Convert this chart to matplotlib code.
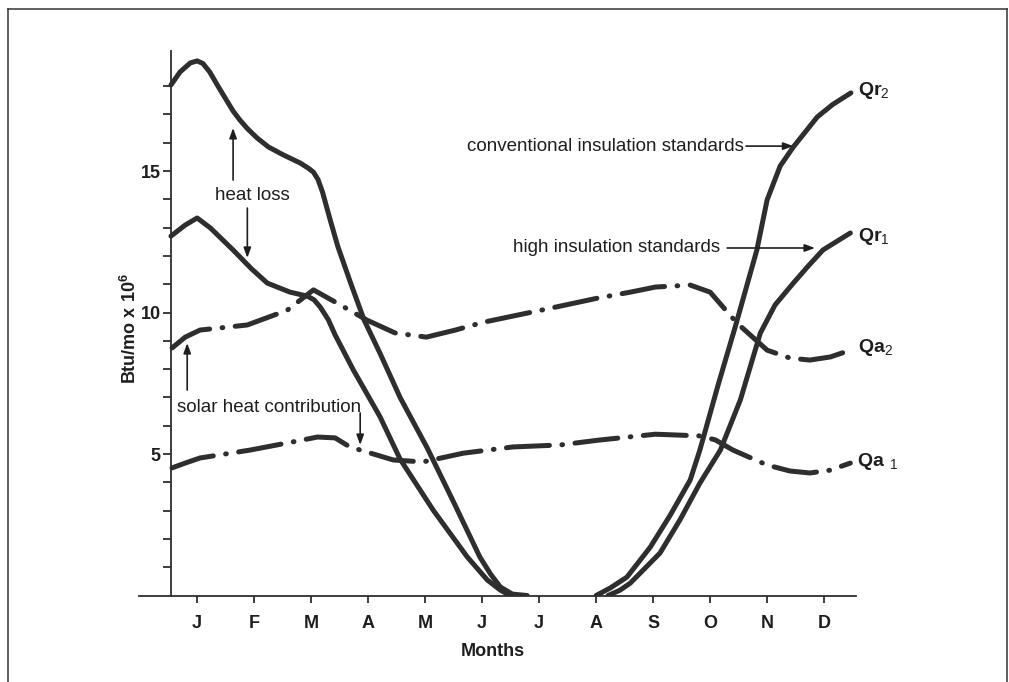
import numpy as np
import matplotlib
matplotlib.use('Agg')
import matplotlib.pyplot as plt
from matplotlib.lines import Line2D

plt.rcParams['font.family'] = ['Liberation Sans', 'DejaVu Sans']
plt.rcParams['mathtext.fontset'] = 'custom'
plt.rcParams['mathtext.rm'] = 'Liberation Sans'
plt.rcParams['mathtext.bf'] = 'Liberation Sans:bold'
plt.rcParams['lines.scale_dashes'] = False

# month labels (J = 0 ... D = 11)
months = ['J', 'F', 'M', 'A', 'M', 'J', 'J', 'A', 'S', 'O', 'N', 'D']

# heat loss, conventional insulation (Qr2) - winter/spring part
qr2_a_x = [-0.46, -0.30, -0.12, 0.0, 0.10, 0.22, 0.35, 0.50, 0.63, 0.75, 0.88, 1.05, 1.25,
           1.51, 1.81, 1.95, 2.04, 2.12, 2.20, 2.33, 2.47, 2.70, 2.93, 3.21, 3.56, 4.04,
           4.49, 4.96, 5.15, 5.32, 5.53, 5.79]
qr2_a_y = [18.04, 18.50, 18.82, 18.89, 18.80, 18.50, 18.05, 17.55, 17.12, 16.80, 16.50, 16.17, 15.85,
           15.57, 15.28, 15.10, 14.96, 14.70, 14.25, 13.30, 12.32, 11.00, 9.73, 8.55, 7.00, 5.20,
           3.34, 1.36, 0.75, 0.30, 0.05, 0.0]
# Qr2 - autumn part
qr2_b_x = [7.00, 7.25, 7.54, 7.95, 8.30, 8.65, 8.82, 9.14, 9.44, 9.82, 10.0, 10.23, 10.46,
           10.67, 10.88, 11.15, 11.47]
qr2_b_y = [0.0, 0.27, 0.65, 1.71, 2.84, 4.08, 5.14, 7.44, 9.49, 12.21, 13.98, 15.18, 15.85,
           16.38, 16.91, 17.35, 17.76]

# heat loss, high insulation (Qr1)
qr1_a_x = [-0.46, -0.21, 0.0, 0.23, 0.63, 0.95, 1.23, 1.63, 1.93, 2.05, 2.16, 2.30, 2.42, 2.74,
           3.21, 3.56, 4.14, 4.74, 5.09, 5.32, 5.49]
qr1_a_y = [12.70, 13.09, 13.34, 12.99, 12.21, 11.55, 11.04, 10.72, 10.58, 10.45, 10.19, 9.75, 9.21, 7.97,
           6.31, 4.82, 3.02, 1.36, 0.55, 0.19, 0.0]
qr1_b_x = [7.21, 7.42, 7.60, 8.12, 8.47, 8.82, 9.18, 9.53, 9.88, 10.14, 10.46, 10.72, 10.98, 11.46]
qr1_b_y = [0.0, 0.19, 0.44, 1.50, 2.67, 3.97, 5.14, 6.91, 9.27, 10.27, 11.04, 11.64, 12.21, 12.81]

# solar heat contribution (Qa2, Qa1)
qa2_x = [-0.44, -0.21, 0.05, 0.88, 1.58, 2.04, 2.51, 2.98, 3.47, 4.02, 4.53, 5.03, 6.03,
         7.03, 7.60, 8.04, 8.65, 9.0, 9.47, 10.0, 10.40, 10.75, 11.11, 11.46]
qa2_y = [8.75, 9.13, 9.38, 9.56, 10.08, 10.80, 10.27, 9.73, 9.28, 9.13, 9.38, 9.66, 10.08,
         10.51, 10.72, 10.90, 10.97, 10.72, 9.63, 8.67, 8.39, 8.32, 8.43, 8.67]
qa1_x = [-0.44, -0.21, 0.05, 0.93, 1.58, 2.11, 2.42, 2.68, 3.44, 3.96, 4.67, 5.54, 6.37,
         7.04, 8.04, 8.82, 9.09, 9.40, 10.0, 10.40, 10.75, 11.11, 11.46]
qa1_y = [4.51, 4.68, 4.86, 5.14, 5.39, 5.60, 5.57, 5.25, 4.79, 4.72, 5.03, 5.25, 5.32,
         5.49, 5.70, 5.64, 5.50, 5.14, 4.61, 4.40, 4.33, 4.43, 4.68]

ink = '#2e2e2e'
txt = '#1e1e1e'

fig = plt.figure(figsize=(10.09, 6.82), dpi=100)
ax = fig.add_axes([0.1378, 0.1268, 0.7106, 0.7984])

solid = dict(color=ink, lw=3.6, solid_capstyle='round', solid_joinstyle='round')
for xs, ys in [(qr2_a_x, qr2_a_y), (qr2_b_x, qr2_b_y), (qr1_a_x, qr1_a_y), (qr1_b_x, qr1_b_y)]:
    ax.plot(xs, ys, **solid)

dashdot = dict(color=ink, lw=3.6, ls=(0, (31, 9, 0.5, 9)), dash_capstyle='round',
               dash_joinstyle='round')
ax.plot(qa2_x, qa2_y, **dashdot)
ax.plot(qa1_x, qa1_y, **dashdot)

ax.set_xlim(-1.02, 11.56)
ax.set_ylim(0, 19.24)

ax.spines['top'].set_visible(False)
ax.spines['right'].set_visible(False)
ax.spines['left'].set_position(('data', -0.456))
ax.spines['left'].set_bounds(0, 19.24)
for s in ['left', 'bottom']:
    ax.spines[s].set_linewidth(1.3)
    ax.spines[s].set_color(ink)

ax.set_xticks(range(12))
ax.set_xticklabels(months, fontsize=13, fontweight='bold', color=txt)
ax.set_yticks(range(1, 19))
ax.set_yticklabels([str(v) if v in (5, 10, 15) else '' for v in range(1, 19)],
                   fontsize=13, fontweight='bold', color=txt)
ax.tick_params(axis='x', direction='out', length=5, width=1.3, color=ink, pad=9)
ax.tick_params(axis='y', direction='out', length=5.5, width=1.3, color=ink, pad=2)

ax.set_xlabel('Months', fontsize=13, fontweight='bold', color=txt)
ax.xaxis.set_label_coords(0.494, -0.102)
ax.xaxis.label.set_va('center')
ax.set_ylabel(r'Btu/mo x 10$^{\mathbf{6}}$', fontsize=13, fontweight='bold', color=txt)
ax.yaxis.set_label_coords(-0.0125, 0.491)
ax.yaxis.label.set_va('center')

# annotations
fs = 13.5
ax.text(0.32, 14.15, 'heat loss', fontsize=fs, va='center', color=txt)
ax.text(-0.35, 6.66, 'solar heat contribution', fontsize=fs, va='center', color=txt)
ax.text(4.74, 15.88, 'conventional insulation standards', fontsize=fs, va='center', color=txt)
ax.text(5.54, 12.28, 'high insulation standards', fontsize=fs, va='center', color=txt)

arw = dict(arrowstyle='-|>,head_length=0.6,head_width=0.22', color=txt, lw=1.2,
           shrinkA=0, shrinkB=0)
ax.annotate('', xy=(0.63, 16.52), xytext=(0.63, 14.68), arrowprops=arw)
ax.annotate('', xy=(0.88, 11.93), xytext=(0.88, 13.69), arrowprops=arw)
ax.annotate('', xy=(-0.175, 8.92), xytext=(-0.175, 7.26), arrowprops=arw)
ax.annotate('', xy=(2.86, 5.32), xytext=(2.86, 6.45), arrowprops=arw)
ax.annotate('', xy=(10.46, 15.88), xytext=(9.63, 15.88), arrowprops=arw)
ax.annotate('', xy=(10.84, 12.28), xytext=(9.30, 12.28), arrowprops=arw)

# curve names
ax.text(11.6, 17.86, r'$\mathbf{Qr}_{2}$', fontsize=14, va='center', color=txt, clip_on=False)
ax.text(11.6, 12.70, r'$\mathbf{Qr}_{1}$', fontsize=14, va='center', color=txt, clip_on=False)
ax.text(11.6, 8.75, r'$\mathbf{Qa}_{2}$', fontsize=14, va='center', color=txt, clip_on=False)
ax.text(11.58, 4.75, r'$\mathbf{Qa}\ _{1}$', fontsize=14, va='center', color=txt, clip_on=False)

# frame around the figure
for xs, ys in [([0.0079, 0.0079], [0.0, 0.9868]), ([0.0079, 0.998], [0.9868, 0.9868]),
               ([0.998, 0.998], [0.0, 0.9868])]:
    fig.add_artist(Line2D(xs, ys, color='#333333', lw=1.1, transform=fig.transFigure))

plt.savefig('out.png', dpi=100)
